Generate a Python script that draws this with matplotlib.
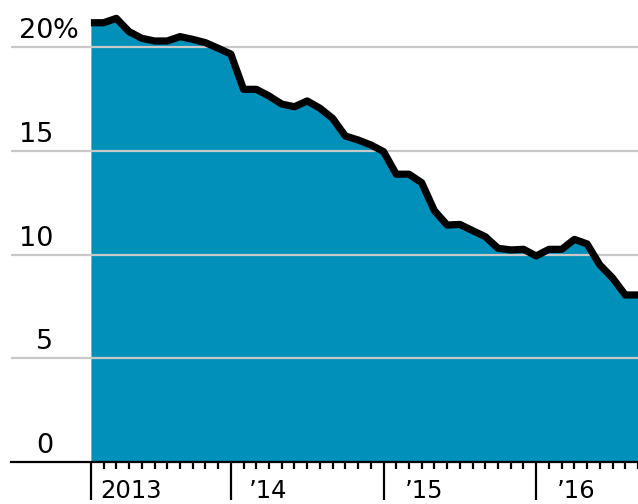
import matplotlib
matplotlib.use("Agg")
import matplotlib.pyplot as plt
import matplotlib.transforms as mtransforms
import numpy as np
import pandas as pd

# ---- data (monthly, Feb 2013 - Sep 2016) ----
rate = [21.17, 21.17, 21.38, 20.74, 20.42, 20.29, 20.29, 20.50, 20.37, 20.21,
        19.94, 19.66, 17.96, 17.96, 17.64, 17.25, 17.12, 17.40, 17.05, 16.56,
        15.71, 15.52, 15.28, 14.96, 13.87, 13.87, 13.46, 12.11, 11.42, 11.45,
        11.15, 10.86, 10.30, 10.22, 10.25, 9.93, 10.25, 10.25, 10.73, 10.51,
        9.50, 8.87, 8.05, 8.05]
months = pd.period_range("2013-02", periods=len(rate), freq="M")
year_labels = ["2013", "\u201914", "\u201915", "\u201916"]
y_ticks = [0, 5, 10, 15, 20]
y_tick_labels = ["0", "5", "10", "15", "20"]

BLUE = "#0090b9"
GRID = "#c8c8c8"

fig = plt.figure(figsize=(6.38, 5.04), dpi=100)
ax = fig.add_axes([11 / 638, 42 / 504, 627 / 638, 462 / 504])

x = np.arange(len(rate))
ax.fill_between(x, 0, rate, color=BLUE, lw=0, zorder=1)
for yv in y_ticks[1:]:
    ax.axhline(yv, color=GRID, lw=1.6, zorder=2)
ax.plot(x, rate, color="black", lw=5.2, solid_capstyle="butt",
        solid_joinstyle="round", zorder=3)

px_per_month = 12.74
ax.set_xlim(-80 / px_per_month, 547 / px_per_month)
ax.set_ylim(0, 462 / 20.75)

for s in ["top", "right", "left"]:
    ax.spines[s].set_visible(False)
ax.spines["bottom"].set_linewidth(1.6)
ax.spines["bottom"].set_color("black")
ax.spines["bottom"].set_zorder(4)
ax.set_yticks([])

# ticks: major at start and each January, minor every month
major_idx = [0] + [i for i, m in enumerate(months) if m.month == 1]
minor_idx = [i for i in x if i not in major_idx]
ax.set_xticks(major_idx)
ax.set_xticklabels([])
ax.set_xticks(minor_idx, minor=True)
ax.tick_params(axis="x", which="major", length=27, width=1.6, color="black")
ax.tick_params(axis="x", which="minor", length=5, width=1.6, color="black")

# x labels placed to the right of the major ticks
offsets_px = [9, 18, 21, 21]
for idx, lab, off in zip(major_idx, year_labels, offsets_px):
    tr = ax.get_xaxis_transform() + mtransforms.ScaledTranslation(
        off / 100, -41 / 100, fig.dpi_scale_trans)
    ax.text(idx, 0, lab, transform=tr, ha="left", va="bottom",
            fontsize=17.5, color="black", family="DejaVu Sans")

# y labels above gridlines
for yv, lab in zip(y_ticks, y_tick_labels):
    tr = ax.get_yaxis_transform() + mtransforms.ScaledTranslation(
        0, 9 / 100, fig.dpi_scale_trans)
    ax.text(42 / 627, yv, lab, transform=tr, ha="right", va="baseline",
            fontsize=19.5, color="black", family="DejaVu Sans")
    if yv == 20:
        ax.text(42 / 627, yv, "%", transform=tr, ha="left", va="baseline",
                fontsize=19.5, color="black", family="DejaVu Sans")

fig.savefig("out.png", dpi=100)
